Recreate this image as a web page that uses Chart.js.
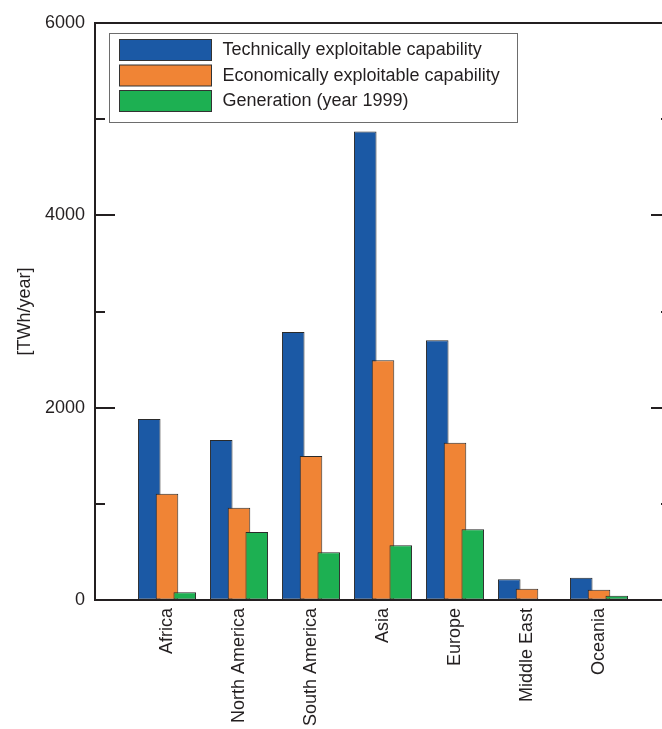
<!DOCTYPE html>
<html>
<head>
<meta charset="utf-8">
<script src="https://cdn.jsdelivr.net/npm/chart.js@4"></script>
<style>
  html, body { margin: 0; padding: 0; background: #fff; overflow: hidden; }
  canvas { display: block; }
</style>
</head>
<body>
<canvas id="hydroChart" width="680" height="729"></canvas>
<script>
// Data
const regions = ['Africa', 'North America', 'South America', 'Asia', 'Europe', 'Middle East', 'Oceania'];
const technical = [1882, 1664, 2787, 4873, 2700, 215, 232];
const economic = [1106, 960, 1497, 2492, 1636, 118, 107];
const generation = [80, 707, 496, 569, 735, 8, 45];
const seriesNames = ['Technically exploitable capability', 'Economically exploitable capability', 'Generation (year 1999)'];
const seriesColors = ['#1b59a5', '#f08435', '#1db052'];
const yTicks = [0, 1000, 2000, 3000, 4000, 5000, 6000];

const ink = '#231f20';
Chart.defaults.font.family = '"Liberation Sans", Arial, Helvetica, sans-serif';
Chart.defaults.font.size = 18;
Chart.defaults.color = ink;

// regions sit at 1..7 on a 0..8 linear axis
function toPoints(values) {
    return values.map((v, i) => ({ x: i + 1, y: v }));
}

// later series drawn over earlier ones (bars overlap a little)
const drawOrderPlugin = {
    id: 'drawOrder',
    beforeDatasetsDraw(chart) {
        chart.getSortedVisibleDatasetMetas()
            .sort((a, b) => a.index - b.index)
            .forEach(meta => meta.controller.draw());
        return false;
    }
};

// frame with inward ticks on both sides, plus boxed legend
const framePlugin = {
    id: 'frame',
    afterDraw(chart) {
        const ctx = chart.ctx;
        const area = chart.chartArea;
        const y = chart.scales.y;
        ctx.save();
        ctx.strokeStyle = ink;
        ctx.lineWidth = 2;
        ctx.beginPath();
        ctx.moveTo(area.left, area.top);
        ctx.lineTo(area.right, area.top);
        ctx.lineTo(area.right, area.bottom);
        ctx.stroke();
        yTicks.forEach(v => {
            const py = Math.round(y.getPixelForValue(v));
            const len = v % 2000 === 0 ? 20 : 10;
            ctx.beginPath();
            ctx.moveTo(area.left, py);
            ctx.lineTo(area.left + len, py);
            ctx.moveTo(area.right, py);
            ctx.lineTo(area.right - len, py);
            ctx.stroke();
        });

        // legend
        const lx = area.left + 14.5, ly = area.top + 10.5;
        ctx.fillStyle = '#fff';
        ctx.fillRect(lx, ly, 408, 89);
        ctx.strokeStyle = '#6d6d6d';
        ctx.lineWidth = 1;
        ctx.strokeRect(lx, ly, 408, 89);
        ctx.font = '18px "Liberation Sans", Arial, sans-serif';
        ctx.textBaseline = 'middle';
        ctx.textAlign = 'left';
        seriesNames.forEach((name, i) => {
            const top = ly + 6 + i * 25.5;
            ctx.fillStyle = seriesColors[i];
            ctx.fillRect(lx + 10, top, 92, 21);
            ctx.strokeStyle = '#333';
            ctx.strokeRect(lx + 10, top, 92, 21);
            ctx.fillStyle = ink;
            ctx.fillText(name, lx + 113, top + 11);
        });
        ctx.restore();
    }
};

const barStyle = {
    borderWidth: 1,
    borderColor: '#2a2a2a',
    borderSkipped: false,
    categoryPercentage: 0.74,
    barPercentage: 1.27
};

new Chart(document.getElementById('hydroChart').getContext('2d'), {
    type: 'bar',
    data: {
        datasets: [
            Object.assign({ label: seriesNames[0], data: toPoints(technical), backgroundColor: seriesColors[0] }, barStyle),
            Object.assign({ label: seriesNames[1], data: toPoints(economic), backgroundColor: seriesColors[1] }, barStyle),
            Object.assign({ label: seriesNames[2], data: toPoints(generation), backgroundColor: seriesColors[2] }, barStyle)
        ]
    },
    options: {
        responsive: false,
        animation: false,
        devicePixelRatio: 1,
        layout: { padding: { top: 23, right: 9, left: 0, bottom: 0 } },
        plugins: {
            legend: { display: false },
            tooltip: { enabled: false }
        },
        scales: {
            x: {
                type: 'linear',
                min: 0,
                max: 8,
                offset: false,
                afterFit: s => {
                    s.height = 129;
                    s.paddingLeft = 0;
                    s.paddingRight = 0;
                },
                grid: { display: true, drawOnChartArea: false, drawTicks: false },
                border: { display: true, color: ink, width: 2 },
                ticks: {
                    stepSize: 1,
                    autoSkip: false,
                    minRotation: 90,
                    maxRotation: 90,
                    padding: 8,
                    callback: v => regions[v - 1] || ''
                }
            },
            y: {
                min: 0,
                max: 6000,
                afterFit: s => { s.width = 95; },
                grid: { display: true, drawOnChartArea: false, drawTicks: false },
                border: { display: true, color: ink, width: 2 },
                title: {
                    display: true,
                    text: '[TWh/year]',
                    font: { size: 18 },
                    padding: { top: 14, bottom: 0 }
                },
                ticks: {
                    stepSize: 1000,
                    padding: 10,
                    callback: v => (v % 2000 === 0 ? String(v) : '')
                }
            }
        }
    },
    plugins: [drawOrderPlugin, framePlugin]
});
</script>
</body>
</html>
